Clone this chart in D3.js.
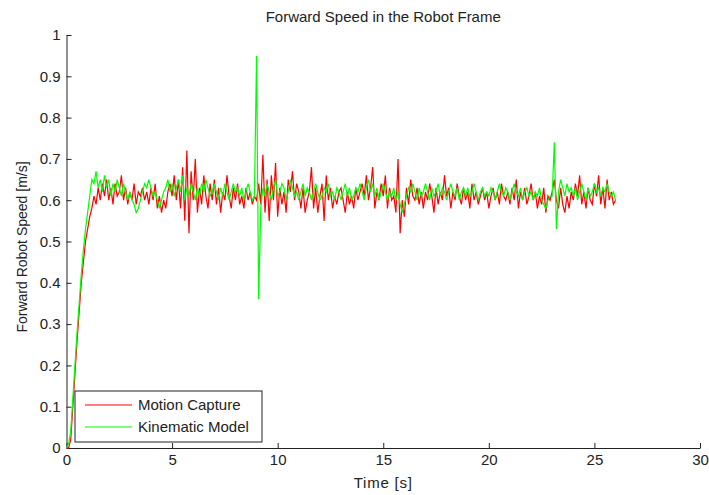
<!DOCTYPE html>
<html>
<head>
<meta charset="utf-8">
<title>Forward Speed</title>
<script src="https://d3js.org/d3.v7.min.js"></script>
<style>
  body { margin: 0; background: #fff; }
  text { font-family: "Liberation Sans", Arial, sans-serif; fill: #222; }
  .axis path, .axis line { stroke: #222; }
  .axis text { font-size: 15px; fill: #222; }
</style>
</head>
<body>
<div id="chart"></div>
<script>
// time step of the sampled series (s)
const dt = 0.1;

// Motion Capture (red) readings, one every 0.1 s from 0 to 26 s
const motionCapture = [
  0, 0, 0.02, 0.10, 0.18, 0.26, 0.33, 0.40, 0.45, 0.50,
  0.53, 0.56, 0.58, 0.61, 0.59, 0.63, 0.60, 0.64, 0.61, 0.65,
  0.60, 0.63, 0.59, 0.64, 0.61, 0.62, 0.66, 0.60, 0.63, 0.59,
  0.62, 0.60, 0.64, 0.59, 0.62, 0.61, 0.63, 0.60, 0.62, 0.59,
  0.63, 0.60, 0.64, 0.58, 0.61, 0.57, 0.60, 0.58, 0.62, 0.64,
  0.61, 0.66, 0.60, 0.65, 0.58, 0.68, 0.55, 0.72, 0.52, 0.67,
  0.60, 0.70, 0.57, 0.63, 0.59, 0.66, 0.61, 0.58, 0.64, 0.60,
  0.65, 0.59, 0.63, 0.57, 0.62, 0.60, 0.66, 0.61, 0.58, 0.63,
  0.60, 0.64, 0.59, 0.61, 0.58, 0.63, 0.60, 0.62, 0.59, 0.61,
  0.60, 0.64, 0.59, 0.71, 0.57, 0.65, 0.55, 0.66, 0.60, 0.69,
  0.56, 0.63, 0.59, 0.62, 0.57, 0.65, 0.62, 0.67, 0.60, 0.64,
  0.62, 0.58, 0.63, 0.57, 0.60, 0.62, 0.68, 0.58, 0.63, 0.57,
  0.61, 0.64, 0.55, 0.66, 0.60, 0.63, 0.58, 0.61, 0.59, 0.62,
  0.63, 0.60, 0.57, 0.62, 0.59, 0.61, 0.58, 0.63, 0.60, 0.62,
  0.64, 0.61, 0.66, 0.60, 0.63, 0.68, 0.58, 0.62, 0.60, 0.64,
  0.61, 0.66, 0.58, 0.63, 0.60, 0.61, 0.57, 0.70, 0.52, 0.60,
  0.56, 0.63, 0.59, 0.65, 0.61, 0.60, 0.63, 0.59, 0.62, 0.58,
  0.62, 0.60, 0.64, 0.61, 0.57, 0.63, 0.59, 0.62, 0.60, 0.66,
  0.61, 0.63, 0.58, 0.62, 0.60, 0.64, 0.61, 0.59, 0.63, 0.60,
  0.62, 0.58, 0.64, 0.60, 0.62, 0.59, 0.61, 0.63, 0.60, 0.62,
  0.58, 0.61, 0.63, 0.60, 0.62, 0.59, 0.64, 0.61, 0.60, 0.62,
  0.59, 0.63, 0.60, 0.65, 0.58, 0.62, 0.60, 0.63, 0.59, 0.61,
  0.64, 0.60, 0.62, 0.58, 0.61, 0.59, 0.63, 0.57, 0.61, 0.60,
  0.62, 0.65, 0.60, 0.58, 0.63, 0.59, 0.57, 0.61, 0.58, 0.62,
  0.60, 0.64, 0.61, 0.66, 0.59, 0.62, 0.58, 0.63, 0.60, 0.59,
  0.64, 0.61, 0.66, 0.59, 0.63, 0.58, 0.65, 0.60, 0.62, 0.59,
  0.60
];

// Kinematic Model (green) readings, same time base
const kinematicModel = [
  0, 0.01, 0.04, 0.12, 0.20, 0.28, 0.35, 0.42, 0.48, 0.53,
  0.57, 0.61, 0.65, 0.64, 0.67, 0.63, 0.65, 0.62, 0.66, 0.63,
  0.65, 0.61, 0.64, 0.62, 0.65, 0.63, 0.61, 0.64, 0.62, 0.60,
  0.62, 0.60, 0.59, 0.57, 0.58, 0.60, 0.62, 0.64, 0.63, 0.65,
  0.63, 0.61, 0.62, 0.60, 0.58, 0.60, 0.62, 0.63, 0.65, 0.62,
  0.64, 0.61, 0.63, 0.65, 0.62, 0.66, 0.60, 0.63, 0.61, 0.64,
  0.62, 0.60, 0.63, 0.61, 0.64, 0.62, 0.65, 0.63, 0.61, 0.62,
  0.64, 0.62, 0.60, 0.63, 0.61, 0.64, 0.62, 0.60, 0.62, 0.64,
  0.62, 0.63, 0.61, 0.63, 0.60, 0.62, 0.64, 0.62, 0.60, 0.61,
  0.95, 0.36, 0.58, 0.63, 0.61, 0.64, 0.62, 0.60, 0.63, 0.65,
  0.61, 0.62, 0.64, 0.63, 0.60, 0.62, 0.65, 0.63, 0.61, 0.62,
  0.60, 0.62, 0.64, 0.61, 0.63, 0.62, 0.60, 0.62, 0.64, 0.62,
  0.60, 0.61, 0.63, 0.62, 0.64, 0.61, 0.62, 0.60, 0.63, 0.62,
  0.60, 0.62, 0.64, 0.61, 0.63, 0.60, 0.61, 0.63, 0.62, 0.64,
  0.62, 0.60, 0.63, 0.65, 0.62, 0.64, 0.61, 0.63, 0.60, 0.62,
  0.64, 0.62, 0.60, 0.62, 0.61, 0.63, 0.60, 0.62, 0.59, 0.57,
  0.59, 0.61, 0.63, 0.62, 0.64, 0.62, 0.60, 0.63, 0.61, 0.62,
  0.64, 0.62, 0.60, 0.63, 0.61, 0.62, 0.64, 0.61, 0.63, 0.62,
  0.60, 0.62, 0.64, 0.62, 0.61, 0.63, 0.60, 0.62, 0.63, 0.61,
  0.63, 0.61, 0.62, 0.64, 0.62, 0.60, 0.62, 0.63, 0.61, 0.62,
  0.61, 0.63, 0.62, 0.60, 0.62, 0.64, 0.62, 0.61, 0.63, 0.62,
  0.60, 0.62, 0.64, 0.62, 0.61, 0.63, 0.60, 0.62, 0.63, 0.61,
  0.62, 0.60, 0.62, 0.61, 0.63, 0.60, 0.59, 0.58, 0.60, 0.61,
  0.61, 0.74, 0.53, 0.62, 0.65, 0.63, 0.61, 0.64, 0.62, 0.63,
  0.61, 0.63, 0.60, 0.62, 0.64, 0.62, 0.60, 0.63, 0.61, 0.62,
  0.64, 0.62, 0.63, 0.61, 0.63, 0.62, 0.64, 0.62, 0.61, 0.62,
  0.60
];

const xTicks = [0, 5, 10, 15, 20, 25, 30];
const yTicks = [0, 0.1, 0.2, 0.3, 0.4, 0.5, 0.6, 0.7, 0.8, 0.9, 1];
const seriesNames = ["Motion Capture", "Kinematic Model"];
const seriesColors = ["#ff0000", "#00ff00"];

const width = 709, height = 495;
const margin = { left: 66.5, right: 9, top: 35, bottom: 47 };

const svg = d3.select("#chart").append("svg")
  .attr("width", width)
  .attr("height", height);

const x = d3.scaleLinear().domain([0, 30]).range([margin.left, width - margin.right]);
const y = d3.scaleLinear().domain([0, 1]).range([height - margin.bottom, margin.top]);

const fmt = d => String(d);

// axes, ticks point inward like matlab
svg.append("g")
  .attr("class", "axis")
  .attr("transform", "translate(0," + y(0) + ")")
  .call(d3.axisBottom(x).tickValues(xTicks).tickSizeInner(-5).tickSizeOuter(0).tickPadding(6).tickFormat(fmt));

svg.append("g")
  .attr("class", "axis")
  .attr("transform", "translate(" + x(0) + ",0)")
  .call(d3.axisLeft(y).tickValues(yTicks).tickSizeInner(-5).tickSizeOuter(0).tickPadding(6).tickFormat(fmt));

const line = d3.line()
  .x((d, i) => x(i * dt))
  .y(d => y(d));

[motionCapture, kinematicModel].forEach(function(s, k) {
  svg.append("path")
    .datum(s)
    .attr("fill", "none")
    .attr("stroke", seriesColors[k])
    .attr("stroke-width", 1.2)
    .attr("d", line);
});

// title and labels
svg.append("text")
  .attr("x", (x(0) + x(30)) / 2)
  .attr("y", 22)
  .attr("text-anchor", "middle")
  .style("font-size", "15px")
  .text("Forward Speed in the Robot Frame");

svg.append("text")
  .attr("x", (x(0) + x(30)) / 2)
  .attr("y", 488)
  .attr("text-anchor", "middle")
  .style("font-size", "15px")
  .style("letter-spacing", "0.8px")
  .text("Time [s]");

svg.append("text")
  .attr("transform", "translate(27,247) rotate(-90)")
  .attr("text-anchor", "middle")
  .style("font-size", "14px")
  .text("Forward Robot Speed [m/s]");

// legend
const legend = svg.append("g").attr("transform", "translate(75,391)");
legend.append("rect")
  .attr("width", 187)
  .attr("height", 51)
  .attr("fill", "#fff")
  .attr("stroke", "#222");

seriesNames.forEach(function(name, k) {
  const ly = 14 + k * 22;
  legend.append("line")
    .attr("x1", 10).attr("x2", 57)
    .attr("y1", ly).attr("y2", ly)
    .attr("stroke", seriesColors[k])
    .attr("stroke-width", 1.2);
  legend.append("text")
    .attr("x", 63)
    .attr("y", ly + 5)
    .style("font-size", "15px")
    .text(name);
});
</script>
</body>
</html>
